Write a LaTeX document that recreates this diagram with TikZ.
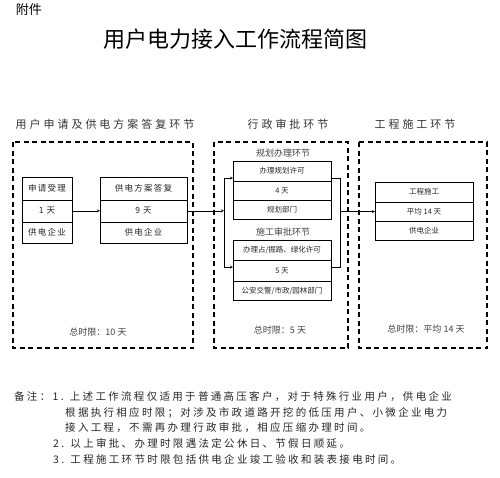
\documentclass[tikz,border=0pt]{standalone}
\usepackage{fontspec}
\setmainfont{Noto Sans CJK SC}
\newfontfamily\headfont[LetterSpace=27]{Noto Sans CJK SC}
\newfontfamily\notefont[LetterSpace=22]{Noto Sans CJK SC}
\newfontfamily\cellfont[LetterSpace=15]{Noto Sans CJK SC}
\usetikzlibrary{positioning}

\begin{document}
\begin{tikzpicture}[x=1pt, y=-1pt, >=stealth,
    frame/.style={draw, line width=1.4pt, dash pattern=on 5pt off 3.5pt},
    cell/.style={draw, outer sep=0pt, inner sep=0pt, text=black!85,
        font=\fontsize{7.5}{9}\selectfont},
    bigcell/.style={cell, font=\cellfont\fontsize{8.5}{10}\selectfont},
    header/.style={font=\headfont\fontsize{11}{13}\selectfont, text=black!80},
    sublabel/.style={font=\fontsize{9}{10}\selectfont, text=black!75},
    total/.style={font=\fontsize{9}{10}\selectfont, text=black!75},
    note/.style={anchor=west, inner sep=0pt, text=black!85,
        font=\notefont\fontsize{10.5}{12}\selectfont}]
    \useasboundingbox (0,0) rectangle (500,477);

    % Titles
    \node[font=\fontsize{13}{15}\selectfont] (fujian) at (29,10) {附件};
    \node[font=\fontsize{22}{24}\selectfont] (title) at (235,39) {用户电力接入工作流程简图};

    % Stage headers
    \node[header] (stage1) at (105,124) {用户申请及供电方案答复环节};
    \node[header] (stage2) at (288,124) {行政审批环节};
    \node[header] (stage3) at (415,124) {工程施工环节};

    % Dashed stage frames
    \draw[frame] (13,142) rectangle (193,348);
    \draw[frame] (214,142) rectangle (348,348);
    \draw[frame] (359,142) rectangle (487,348);

    % Stage 1: application and supply plan
    \node[bigcell, minimum width=50pt, minimum height=22.5pt] (shouli) at (47,188.5) {申请受理};
    \node[bigcell, minimum width=50pt, minimum height=22pt, below=0pt of shouli] (shouli-day) {1 天};
    \node[bigcell, minimum width=50pt, minimum height=21pt, below=0pt of shouli-day] (shouli-org) {供电企业};

    \node[bigcell, minimum width=87pt, minimum height=22.5pt] (dafu) at (143.5,188.5) {供电方案答复};
    \node[bigcell, minimum width=87pt, minimum height=22pt, below=0pt of dafu] (dafu-day) {9 天};
    \node[bigcell, minimum width=87pt, minimum height=21pt, below=0pt of dafu-day] (dafu-org) {供电企业};

    % Stage 2: administrative approval
    \node[sublabel] (guihua-lbl) at (283,153) {规划办理环节};
    \node[cell, minimum width=98pt, minimum height=20pt] (guihua) at (282,171) {办理规划许可};
    \node[cell, minimum width=98pt, minimum height=19pt, below=0pt of guihua] (guihua-day) {4 天};
    \node[cell, minimum width=98pt, minimum height=19pt, below=0pt of guihua-day] (guihua-org) {规划部门};

    \node[sublabel] (shigong-lbl) at (283,232) {施工审批环节};
    \node[cell, minimum width=98pt, minimum height=20pt] (shigong) at (282,250) {办理占/掘路、绿化许可};
    \node[cell, minimum width=98pt, minimum height=21pt, below=0pt of shigong] (shigong-day) {5 天};
    \node[cell, minimum width=98pt, minimum height=19pt, below=0pt of shigong-day] (shigong-org) {公安交警/市政/园林部门};

    % Stage 3: construction
    \node[cell, minimum width=98pt, minimum height=20pt] (gongcheng) at (424,192) {工程施工};
    \node[cell, minimum width=98pt, minimum height=19pt, below=0pt of gongcheng] (gongcheng-day) {平均 14 天};
    \node[cell, minimum width=98pt, minimum height=19pt, below=0pt of gongcheng-day] (gongcheng-org) {供电企业};

    % Totals
    \node[total] (total1) at (98,332) {总时限：10 天};
    \node[total] (total2) at (280,330) {总时限：5 天};
    \node[total] (total3) at (426,329) {总时限：平均 14 天};

    % Connectors
    \coordinate (fenA) at (224,178);
    \coordinate (fenB) at (224,267);
    \coordinate (heA) at (340,178);
    \coordinate (heB) at (340,267);
    \coordinate (he) at (340,211.5);
    \draw[->] (shouli-day) -- (dafu-day);
    \draw[->] (dafu-day.east) -- (dafu-day.east -| fenA);
    \draw (fenA) -- (fenB);
    \draw[->] (fenA) -- (fenA -| guihua.west);
    \draw[->] (fenB) -- (fenB -| shigong-day.west);
    \draw (fenA -| guihua.east) -- (heA) -- (heB) -- (fenB -| shigong-day.east);
    \draw[->] (he) -- (gongcheng-day.west);

    % Notes
    \node[note] (note1) at (14,397) {备注：1. 上述工作流程仅适用于普通高压客户，对于特殊行业用户，供电企业};
    \node[note] (note2) at (65,412.5) {根据执行相应时限；对涉及市政道路开挖的低压用户、小微企业电力};
    \node[note] (note3) at (65,428) {接入工程，不需再办理行政审批，相应压缩办理时间。};
    \node[note] (note4) at (53,443.5) {2. 以上审批、办理时限遇法定公休日、节假日顺延。};
    \node[note] (note5) at (53,459) {3. 工程施工环节时限包括供电企业竣工验收和装表接电时间。};
\end{tikzpicture}
\end{document}
